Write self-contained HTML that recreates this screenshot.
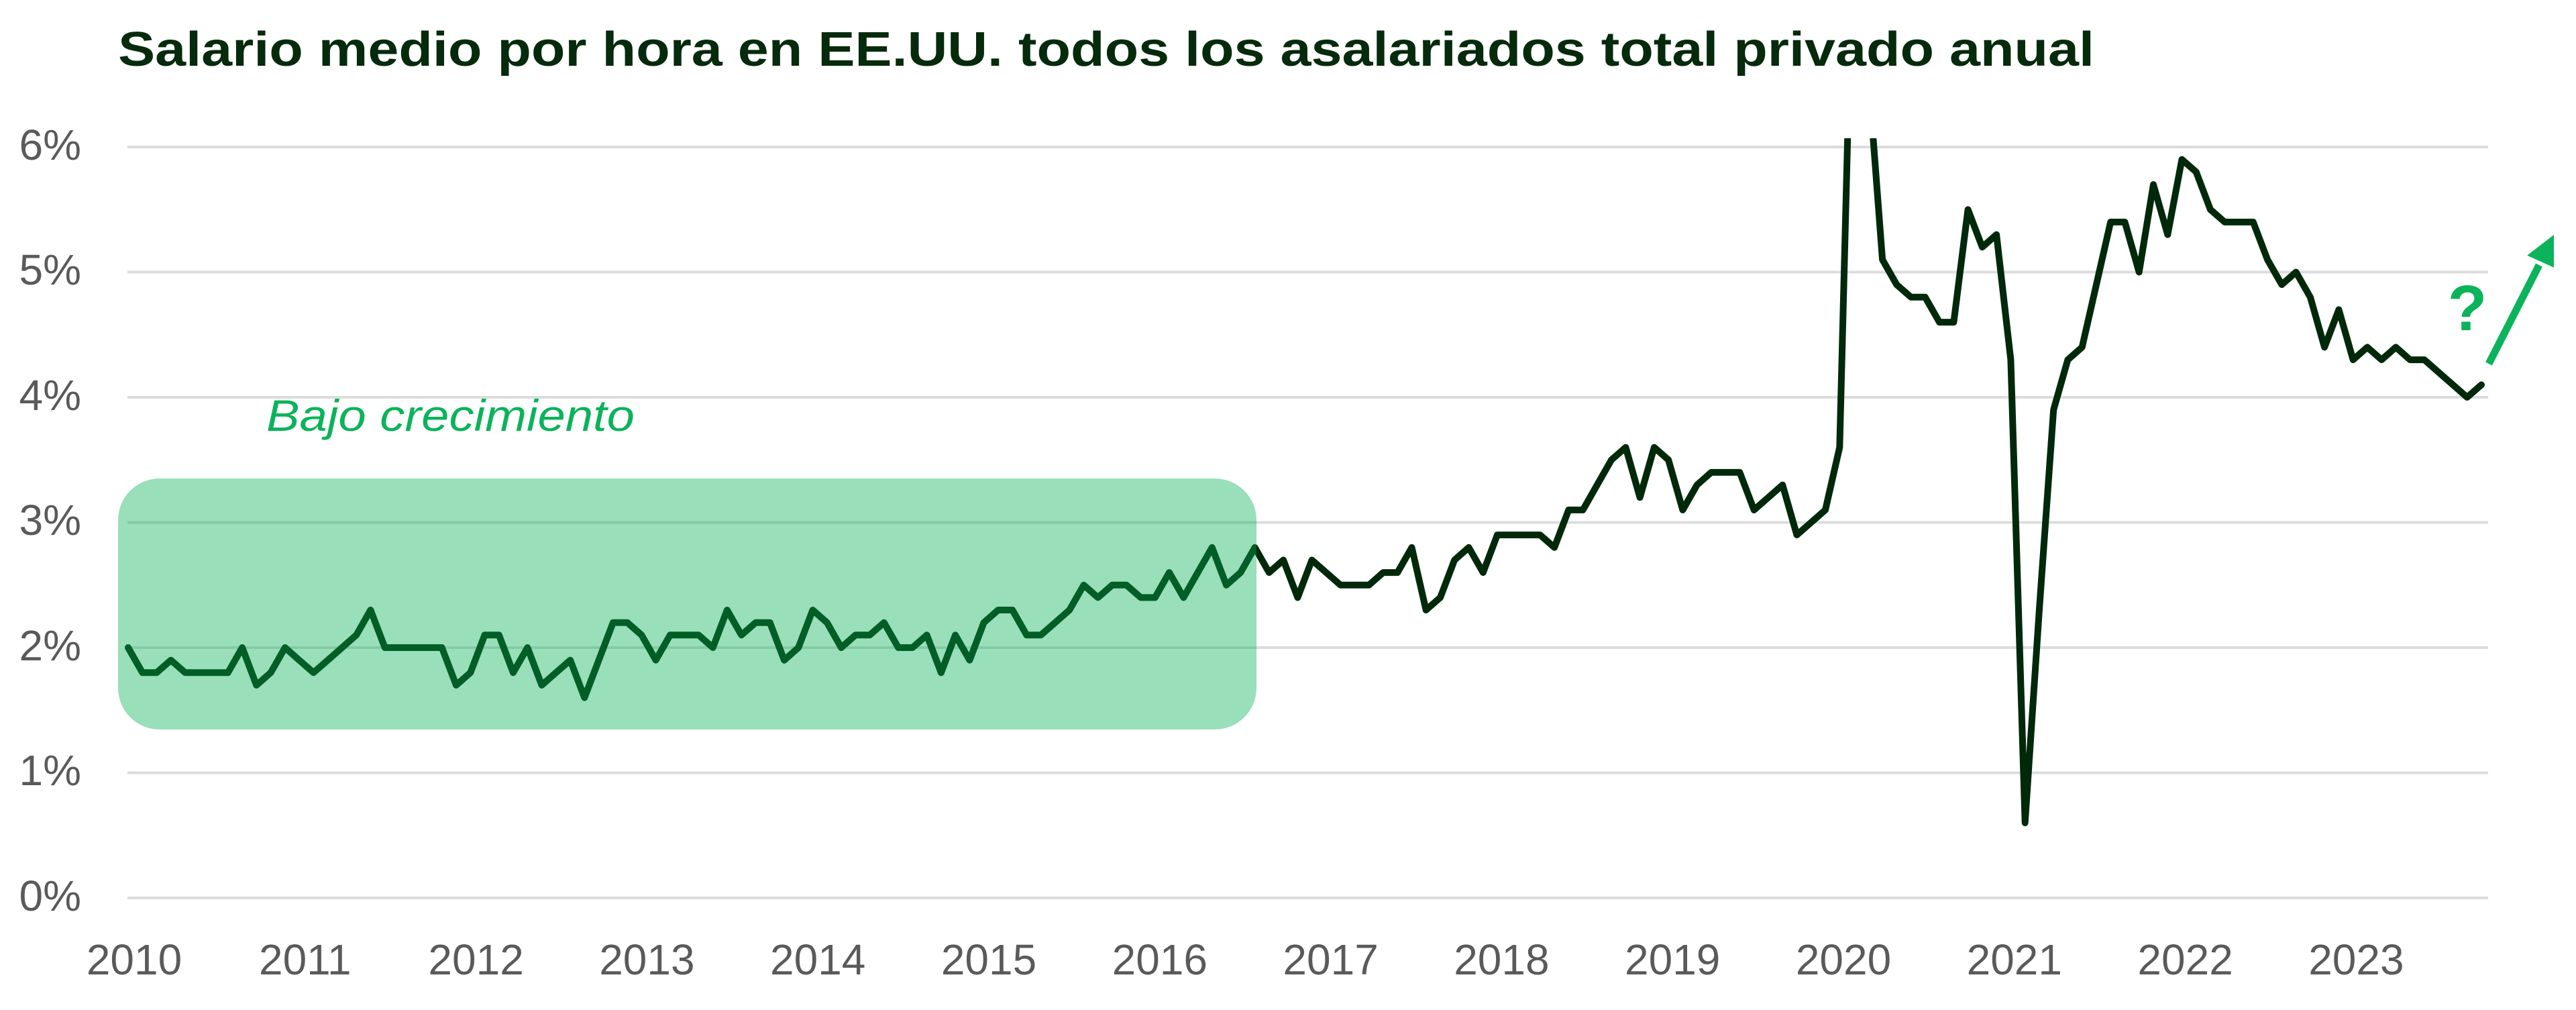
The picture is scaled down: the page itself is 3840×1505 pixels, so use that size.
<!DOCTYPE html>
<html><head><meta charset="utf-8"><style>
html,body{margin:0;padding:0;background:#fff;width:3840px;height:1505px;overflow:hidden}
svg{display:block}
.t{font-family:"Liberation Sans",sans-serif;fill:#5a5a5a;font-size:64px}
</style></head><body>
<svg id="s" width="3840" height="1505" viewBox="0 0 3840 1505" xmlns="http://www.w3.org/2000/svg">
<defs><clipPath id="c"><rect x="150" y="206" width="3600" height="1200"/></clipPath></defs>
<text x="176" y="98" font-family="Liberation Sans, sans-serif" font-weight="bold" font-size="72" fill="#062a0c" textLength="2946" lengthAdjust="spacingAndGlyphs">Salario medio por hora en EE.UU. todos los asalariados total privado anual</text>
<g stroke="#dcdcdc" stroke-width="4">
<line x1="190" x2="3709" y1="219" y2="219"/>
<line x1="190" x2="3709" y1="405.5" y2="405.5"/>
<line x1="190" x2="3709" y1="592" y2="592"/>
<line x1="190" x2="3709" y1="778.5" y2="778.5"/>
<line x1="190" x2="3709" y1="965" y2="965"/>
<line x1="190" x2="3709" y1="1151.5" y2="1151.5"/>
<line x1="190" x2="3709" y1="1338" y2="1338"/>
</g>
<g class="t" text-anchor="end">
<text x="121" y="238">6%</text>
<text x="121" y="424">5%</text>
<text x="121" y="611">4%</text>
<text x="121" y="797">3%</text>
<text x="121" y="984">2%</text>
<text x="121" y="1170">1%</text>
<text x="121" y="1357">0%</text>
</g>
<g class="t" text-anchor="middle" id="yrs"></g>
<polyline id="ln" clip-path="url(#c)" fill="none" stroke="#00290a" stroke-width="10" stroke-linejoin="round" stroke-linecap="round"/>
<rect x="176" y="713" width="1697" height="374" rx="62" fill="#00b050" fill-opacity="0.4"/>
<text x="397" y="642" font-family="Liberation Sans, sans-serif" font-style="italic" font-size="66" fill="#0bb35a" textLength="549" lengthAdjust="spacingAndGlyphs">Bajo crecimiento</text>
<text x="3678" y="492" text-anchor="middle" font-family="Liberation Sans, sans-serif" font-weight="bold" font-size="96" fill="#0bb35a">?</text>
<line x1="3710" y1="542" x2="3785" y2="395" stroke="#0bb35a" stroke-width="11"/>
<polygon points="3804,356 3804,394 3773,380" fill="#0bb35a" stroke="#0bb35a" stroke-width="6" stroke-linejoin="miter"/>
</svg>
<script>
var v=[2.0,1.8,1.8,1.9,1.8,1.8,1.8,1.8,2.0,1.7,1.8,2.0,1.9,1.8,1.9,2.0,2.1,2.3,2.0,2.0,2.0,2.0,2.0,1.7,1.8,2.1,2.1,1.8,2.0,1.7,1.8,1.9,1.6,1.9,2.2,2.2,2.1,1.9,2.1,2.1,2.1,2.0,2.3,2.1,2.2,2.2,1.9,2.0,2.3,2.2,2.0,2.1,2.1,
2.2,2.0,2.0,2.1,1.8,2.1,1.9,2.2,2.3,2.3,2.1,2.1,2.2,2.3,2.5,2.4,2.5,2.5,2.4,2.4,2.6,2.4,2.6,2.8,2.5,2.6,2.8,2.6,2.7,2.4,2.7,2.6,2.5,2.5,2.5,2.6,2.6,2.8,2.3,2.4,2.7,2.8,2.6,2.9,2.9,2.9,2.9,2.8,3.1,3.1,3.3,3.5,3.6,3.2,3.6,3.5,3.1,3.3,3.4,3.4,3.4,3.1,3.2,3.3,2.9,3.0,3.1,3.6,
8.0,6.6,5.1,4.9,4.8,4.8,4.6,4.6,5.5,5.2,5.3,4.3,0.6,
2.3,3.9,4.3,4.4,4.9,5.4,5.4,5.0,5.7,5.3,5.9,5.8,5.5,5.4,5.4,5.4,5.1,4.9,5.0,4.8,4.4,4.7,4.3,4.4,4.3,4.4,4.3,4.3,4.2,4.1,4.0,4.1];
var dx=(3699-191)/(v.length-1),p=[];
for(var i=0;i<v.length;i++)p.push((191+i*dx).toFixed(1)+","+(1338-v[i]*186.5).toFixed(1));
document.getElementById("ln").setAttribute("points",p.join(" "));
var g=document.getElementById("yrs"),ns="http://www.w3.org/2000/svg";
for(var k=0;k<14;k++){var t=document.createElementNS(ns,"text");t.setAttribute("x",(200+k*254.8).toFixed(1));t.setAttribute("y","1452");t.textContent=2010+k;g.appendChild(t);}
</script>
</body></html>
